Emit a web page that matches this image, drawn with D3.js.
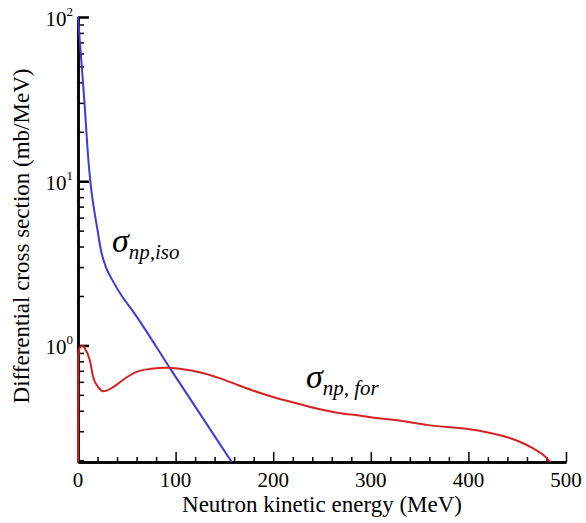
<!DOCTYPE html>
<html>
<head>
<meta charset="utf-8">
<script src="https://cdn.jsdelivr.net/npm/d3@7"></script>
<style>
  body { margin: 0; background: #fff; }
  text { font-family: "Liberation Serif", "Times New Roman", serif; fill: #000; }
</style>
</head>
<body>
<div class="main"></div>
<script>
////Global Variables
const width = 586;
const height = 523;
const margin = { top: 17, right: 20, bottom: 61, left: 78 };

// data (energy in MeV, cross section in mb/MeV)
const isoEnergy = [0, 6, 11.5, 13.3, 16.6, 20.1, 23.5, 28.6, 35.4, 45.6, 55.8, 96, 160];
const isoValue  = [100, 34, 11.7, 9.2, 6.65, 5.0, 3.8, 3.0, 2.49, 1.97, 1.63, 0.70, 0.185];

const forEnergy = [0, 0.3, 1.5, 4, 7, 12.2, 15.6, 20.7, 25.8, 36, 43, 50, 60, 75, 90, 104, 124.5, 145, 165, 186, 206, 226.5, 247, 267, 288, 308, 329, 359, 410, 444, 464, 478, 487];
const forValue  = [0.05, 0.85, 0.96, 1.0, 0.96, 0.81, 0.64, 0.557, 0.526, 0.557, 0.597, 0.64, 0.69, 0.72, 0.73, 0.72, 0.687, 0.632, 0.57, 0.515, 0.473, 0.44, 0.41, 0.388, 0.374, 0.36, 0.349, 0.327, 0.303, 0.271, 0.24, 0.212, 0.185];

const xTicks = [0, 100, 200, 300, 400, 500];
const yDecades = [0, 1, 2];

const svg = d3.select('.main').append('svg')
  .attr('width', width)
  .attr('height', height);

const xScale = d3.scaleLinear()
  .domain([0, 500])
  .range([margin.left, width - margin.right]);

const yScale = d3.scaleLog()
  .domain([0.195, 100])
  .range([height - margin.bottom, margin.top]);

svg.append('clipPath').attr('id', 'plot')
  .append('rect')
  .attr('x', margin.left - 2)
  .attr('y', margin.top)
  .attr('width', width - margin.left - margin.right + 2)
  .attr('height', height - margin.top - margin.bottom);

// x axis, ticks pointing up
const xMinor = d3.range(0, 501, 20).filter(v => v % 100 !== 0);
const xAxisG = svg.append('g')
  .attr('transform', `translate(0, ${height - margin.bottom})`);
xAxisG.call(d3.axisTop(xScale).tickValues(xMinor).tickSize(5).tickSizeOuter(0).tickFormat(''));
xAxisG.call(g => g.append('g').call(d3.axisTop(xScale).tickValues(xTicks).tickSize(10).tickSizeOuter(0).tickFormat('')));
xAxisG.selectAll('line').attr('stroke', '#000').attr('stroke-width', 1.5);
xAxisG.selectAll('.domain').attr('stroke', '#000').attr('stroke-width', 2.5);

svg.append('g').selectAll('text')
  .data(xTicks)
  .enter()
  .append('text')
  .attr('x', d => xScale(d))
  .attr('y', height - margin.bottom + 25)
  .attr('text-anchor', 'middle')
  .style('font-size', '21px')
  .text(d => d);

// y axis, ticks pointing right
const yMinor = [];
yDecades.slice(0, -1).forEach(p => d3.range(2, 10).forEach(m => yMinor.push(m * Math.pow(10, p))));
[0.2, 0.3, 0.4, 0.5, 0.6, 0.7, 0.8, 0.9].forEach(v => yMinor.push(v));
const yMajor = yDecades.map(p => Math.pow(10, p));

const yAxisG = svg.append('g')
  .attr('transform', `translate(${margin.left}, 0)`);
yAxisG.call(d3.axisRight(yScale).tickValues(yMinor).tickSize(6).tickSizeOuter(0).tickFormat(''));
yAxisG.call(g => g.append('g').call(d3.axisRight(yScale).tickValues(yMajor).tickSize(11).tickSizeOuter(0).tickFormat('')));
yAxisG.selectAll('line').attr('stroke', '#000').attr('stroke-width', 1.5);
yAxisG.selectAll('line').filter(d => yMajor.includes(d)).attr('stroke-width', 2.5);
yAxisG.selectAll('.domain').attr('stroke', '#000').attr('stroke-width', 2.5);
xAxisG.raise();

const yLabels = svg.append('g').selectAll('text')
  .data(yDecades)
  .enter()
  .append('text')
  .attr('x', margin.left - 5)
  .attr('y', d => yScale(Math.pow(10, d)) + 9)
  .attr('text-anchor', 'end')
  .style('font-size', '21px');
yLabels.append('tspan').text('10');
yLabels.append('tspan')
  .attr('dy', -10)
  .style('font-size', '13px')
  .text(d => d);

// curves drawn over the axes
const line = d3.line()
  .x(d => xScale(d[0]))
  .y(d => yScale(d[1]))
  .curve(d3.curveMonotoneX);

svg.append('path')
  .datum(d3.zip(isoEnergy, isoValue))
  .attr('clip-path', 'url(#plot)')
  .attr('fill', 'none')
  .attr('stroke', '#3b3bd8')
  .attr('stroke-width', 2)
  .attr('d', line);

svg.append('path')
  .datum(d3.zip(forEnergy, forValue))
  .attr('clip-path', 'url(#plot)')
  .attr('fill', 'none')
  .attr('stroke', '#d42222')
  .attr('stroke-width', 2)
  .attr('d', line);

// axis titles
svg.append('text')
  .attr('x', 322)
  .attr('y', 512)
  .attr('text-anchor', 'middle')
  .style('font-size', '23px')
  .text('Neutron kinetic energy (MeV)');

svg.append('text')
  .attr('transform', 'translate(29, 236) rotate(-90)')
  .attr('text-anchor', 'middle')
  .style('font-size', '23px')
  .text('Differential cross section (mb/MeV)');

// curve labels
function sigmaLabel(x, y, sub) {
  const t = svg.append('text')
    .attr('x', x)
    .attr('y', y);
  t.append('tspan')
    .style('font-size', '34px')
    .style('font-style', 'italic')
    .text('σ');
  t.append('tspan')
    .attr('dy', 7)
    .style('font-size', '21px')
    .style('font-style', 'italic')
    .text(sub);
}
sigmaLabel(112, 252, 'np,iso');
sigmaLabel(306, 388, 'np, for');
</script>
</body>
</html>
